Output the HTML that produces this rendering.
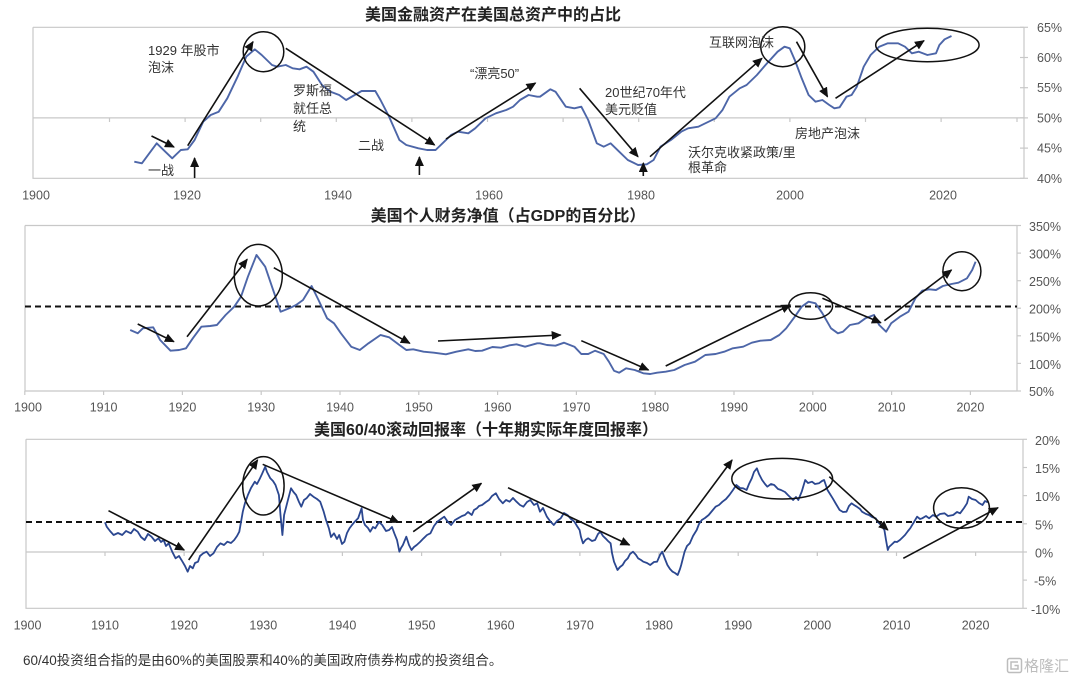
<!DOCTYPE html>
<html><head><meta charset="utf-8">
<style>
html,body{margin:0;padding:0;background:#fff;}
svg{display:block;}
.t{font-family:"Liberation Sans","Noto Sans CJK SC",sans-serif;font-weight:bold;font-size:16px;fill:#222;}
.ax{font-family:"Liberation Sans",sans-serif;font-size:12.5px;fill:#555;}
.an{font-family:"Liberation Sans","Noto Sans CJK SC",sans-serif;font-size:13px;fill:#333;}
.fn{font-family:"Liberation Sans","Noto Sans CJK SC",sans-serif;font-size:13.5px;fill:#333;}
.fr{stroke:#c8c8c8;stroke-width:1.2;fill:none;}
.ar{stroke:#111;stroke-width:1.6;fill:none;}
.el{stroke:#111;stroke-width:1.5;fill:none;}
.ds{stroke:#111;stroke-width:2;stroke-dasharray:6 4;fill:none;}
</style></head>
<body>
<svg width="1080" height="687" viewBox="0 0 1080 687" xmlns="http://www.w3.org/2000/svg">
<defs>
<marker id="ah" markerUnits="userSpaceOnUse" markerWidth="10" markerHeight="9" refX="9" refY="4.5" orient="auto">
<path d="M0,0 L10,4.5 L0,9 z" fill="#111"/>
</marker>
</defs>
<rect width="1080" height="687" fill="#fff"/>

<!-- ============ TOP CHART ============ -->
<text class="t" x="493" y="20" text-anchor="middle">美国金融资产在美国总资产中的占比</text>
<path class="fr" d="M33,27.3 H1024 M33,27.3 V178.3 H1024 M1024,27.3 V178.3"/>
<line x1="33" y1="117.9" x2="1024" y2="117.9" stroke="#c8c8c8" stroke-width="1.2"/>
<g stroke="#c8c8c8" stroke-width="1.2">
<line x1="109.5" y1="117.9" x2="109.5" y2="122"/><line x1="185.1" y1="117.9" x2="185.1" y2="122"/>
<line x1="260.7" y1="117.9" x2="260.7" y2="122"/><line x1="336.3" y1="117.9" x2="336.3" y2="122"/>
<line x1="411.9" y1="117.9" x2="411.9" y2="122"/><line x1="487.5" y1="117.9" x2="487.5" y2="122"/>
<line x1="563.1" y1="117.9" x2="563.1" y2="122"/><line x1="638.7" y1="117.9" x2="638.7" y2="122"/>
<line x1="714.3" y1="117.9" x2="714.3" y2="122"/><line x1="789.9" y1="117.9" x2="789.9" y2="122"/>
<line x1="865.5" y1="117.9" x2="865.5" y2="122"/><line x1="941.1" y1="117.9" x2="941.1" y2="122"/>
<line x1="1017" y1="117.9" x2="1017" y2="122"/>
<line x1="1020" y1="27.3" x2="1028" y2="27.3"/><line x1="1020" y1="57.5" x2="1028" y2="57.5"/>
<line x1="1020" y1="87.7" x2="1028" y2="87.7"/><line x1="1020" y1="117.9" x2="1028" y2="117.9"/>
<line x1="1020" y1="148.1" x2="1028" y2="148.1"/><line x1="1020" y1="178.3" x2="1028" y2="178.3"/>
</g>
<g class="ax">
<text x="1037" y="31.8">65%</text><text x="1037" y="62">60%</text><text x="1037" y="92.2">55%</text>
<text x="1037" y="122.4">50%</text><text x="1037" y="152.6">45%</text><text x="1037" y="182.8">40%</text>
</g>
<g class="ax" text-anchor="middle">
<text x="36" y="199.5">1900</text><text x="187" y="199.5">1920</text><text x="338" y="199.5">1940</text>
<text x="489" y="199.5">1960</text><text x="641" y="199.5">1980</text><text x="790" y="199.5">2000</text>
<text x="943" y="199.5">2020</text>
</g>
<polyline fill="none" stroke="#4d66a8" stroke-width="1.9" stroke-linejoin="round" points="134.3,161.7 141.9,163.3 156.7,143.3 165.3,151.7 172.2,158.3 180.8,150 187.7,149.3 194.6,140 203.2,121.7 210.7,115 218.7,111.7 227.3,98.3 237.6,76.7 246.2,56.7 254.8,49.3 261.7,55 272,65 277.2,66.7 285.8,65 292.7,68.3 299.6,69.3 306.5,66.7 313.4,71.7 322,85 330.6,91.7 339.2,95 346.1,100 354.7,95 361.6,91 375.3,91 380.5,100 389.1,116.7 399.4,140 406.3,145 418.4,148.3 427,150 435.6,150 444.2,141.7 451.1,135 458,131.7 468.3,133.3 475.2,128.3 485.5,118.3 495.9,113.3 506.2,110 513.1,106.7 520,100 528.6,95 537.2,96.7 540,96.7 550.3,89.3 555.5,91.7 565.8,106.7 574.4,108.3 581.3,106.7 588.2,120 596.8,143.3 603.7,146.7 610.6,143.3 619.2,151.7 627.8,160 638.1,165 646.8,164.3 653.6,160 660.5,146.7 670.9,140 681.2,131.7 688.1,128.3 698.4,126.7 705.3,123.3 715.6,118.3 722.5,110 729.4,96.7 739.7,88.3 746.6,85 756.9,75 765.5,65 777.6,51.7 784.5,46.7 789.7,48.3 794.8,60 801.7,78.3 808.6,95 815.5,101.7 822.4,100 829.3,105 834.4,108.3 839.6,107.3 846.5,96.7 851.6,95 856.8,86.7 863.7,66.7 870.6,55 879.2,46.7 887.8,43.3 898.1,43.3 905,46.7 911.9,53.3 918.8,51.7 927.4,55 936,53.3 939.4,45 944.6,39.3 951.5,36"/>
<g class="ar" marker-end="url(#ah)">
<line x1="151.5" y1="136" x2="174" y2="147"/>
<line x1="187.7" y1="145.7" x2="253" y2="41.7"/>
<line x1="285.8" y1="48.3" x2="434.6" y2="145"/>
<line x1="194.6" y1="178" x2="194.6" y2="158"/>
<line x1="419.4" y1="175" x2="419.4" y2="157"/>
<line x1="446" y1="139" x2="535.5" y2="83"/>
<line x1="579.6" y1="88.3" x2="638" y2="156.7"/>
<line x1="643.3" y1="176" x2="643.3" y2="163"/>
<line x1="650" y1="156.7" x2="762" y2="58.3"/>
<line x1="796.5" y1="41.7" x2="827.5" y2="96.7"/>
<line x1="835.5" y1="98.3" x2="924" y2="40.7"/>
</g>
<ellipse class="el" cx="263.5" cy="51.7" rx="20.3" ry="20"/>
<ellipse class="el" cx="782.8" cy="46.7" rx="22" ry="20"/>
<ellipse class="el" cx="927.4" cy="45" rx="51.7" ry="16.7"/>
<g class="an">
<text x="148" y="55">1929 年股市</text><text x="148" y="72">泡沫</text>
<text x="293" y="95">罗斯福</text><text x="293" y="113">就任总</text><text x="293" y="131">统</text>
<text x="358" y="150">二战</text>
<text x="148" y="175">一战</text>
<text x="470" y="78">“漂亮50”</text>
<text x="709" y="47">互联网泡沫</text>
<text x="605" y="97">20世纪70年代</text><text x="605" y="114">美元贬值</text>
<text x="795" y="138">房地产泡沫</text>
<text x="688" y="157">沃尔克收紧政策/里</text><text x="688" y="172">根革命</text>
</g>

<!-- ============ MIDDLE CHART ============ -->
<text class="t" x="508" y="221" text-anchor="middle">美国个人财务净值（占GDP的百分比）</text>
<path class="fr" d="M25,225.5 H1017 M25,225.5 V391 H1017 M1017,225.5 V391"/>
<g stroke="#c8c8c8" stroke-width="1.2">
<line x1="24.8" y1="391" x2="24.8" y2="395"/><line x1="103.6" y1="391" x2="103.6" y2="395"/>
<line x1="182.4" y1="391" x2="182.4" y2="395"/><line x1="261.2" y1="391" x2="261.2" y2="395"/>
<line x1="340" y1="391" x2="340" y2="395"/><line x1="418.8" y1="391" x2="418.8" y2="395"/>
<line x1="497.6" y1="391" x2="497.6" y2="395"/><line x1="576.4" y1="391" x2="576.4" y2="395"/>
<line x1="655.2" y1="391" x2="655.2" y2="395"/><line x1="734" y1="391" x2="734" y2="395"/>
<line x1="812.8" y1="391" x2="812.8" y2="395"/><line x1="891.6" y1="391" x2="891.6" y2="395"/>
<line x1="970.4" y1="391" x2="970.4" y2="395"/>
<line x1="1017" y1="225.5" x2="1021" y2="225.5"/><line x1="1017" y1="253.1" x2="1021" y2="253.1"/>
<line x1="1017" y1="280.7" x2="1021" y2="280.7"/><line x1="1017" y1="308.2" x2="1021" y2="308.2"/>
<line x1="1017" y1="335.8" x2="1021" y2="335.8"/><line x1="1017" y1="363.4" x2="1021" y2="363.4"/>
<line x1="1017" y1="391" x2="1021" y2="391"/>
</g>
<g class="ax">
<text x="1029" y="231">350%</text><text x="1029" y="258.6">300%</text><text x="1029" y="286.2">250%</text>
<text x="1029" y="313.7">200%</text><text x="1029" y="341.3">150%</text><text x="1029" y="368.9">100%</text>
<text x="1029" y="396">50%</text>
</g>
<g class="ax" text-anchor="middle">
<text x="28" y="411.5">1900</text><text x="103.6" y="411.5">1910</text><text x="182.4" y="411.5">1920</text>
<text x="261.2" y="411.5">1930</text><text x="340" y="411.5">1940</text><text x="418.8" y="411.5">1950</text>
<text x="497.6" y="411.5">1960</text><text x="576.4" y="411.5">1970</text><text x="655.2" y="411.5">1980</text>
<text x="734" y="411.5">1990</text><text x="812.8" y="411.5">2000</text><text x="891.6" y="411.5">2010</text>
<text x="970.4" y="411.5">2020</text>
</g>
<line class="ds" x1="25" y1="306.5" x2="1017" y2="306.5"/>
<polyline fill="none" stroke="#4d66a8" stroke-width="1.9" stroke-linejoin="round" points="130.2,330 137.7,333.3 142.9,328.3 153.2,327.3 160.1,340 170.5,350.7 179.1,350 186,348.3 192.8,338.3 201.4,326.7 210.1,326 216.9,325 225.6,315 234.2,306.7 241,296.7 247.9,276.7 256.5,255 265.2,266.7 272,286.7 280.6,311.7 289.3,308.3 296.1,305 303,300 311.6,286 318.5,300 327.1,318.3 334,323.3 340.9,333.3 351.2,346.7 359.8,350 368.5,343.3 380.5,335 389.1,337.3 399.4,345 406.3,350 413.2,349.3 423.6,351.7 433.9,352.7 445.9,354.3 456.3,351.7 468.3,349.3 475.2,351 482.1,350.7 492.4,347 501,347.7 509.6,345.3 516.5,344.3 525.1,346.7 537.2,343.3 540,343.3 546.9,345 555.5,345.7 564.1,342.7 574.4,346.7 581.3,354 588.2,354 595.1,350.7 603.7,354 608.9,361.7 614,370.7 619.2,372.7 626.1,368.3 634.7,370 643.3,373.3 650.2,374 657.1,372.7 665.7,371.7 674.3,370 684.6,365 695,361.7 705.3,355 715.6,354 724.2,351.7 732.8,348.3 743.2,346.7 751.8,342.7 760.4,340.7 770.7,340 779.3,335 786.2,328.3 794.8,316.7 801.7,306.7 808.6,301.7 815.5,303.3 822.4,313.3 831,328.3 837.9,333.3 843,331.7 849.9,325 858.5,323.3 865.4,318.3 874,315 879.2,325 886.1,331.7 891.2,323.3 899.9,316.7 908.5,311.7 915.4,298.3 922.2,290.7 929.1,289.3 936,290 942.9,286 951.5,284 958.4,282.7 967,278.3 972.2,270 975.6,261.7"/>
<g class="ar" marker-end="url(#ah)">
<line x1="137.7" y1="324" x2="173.9" y2="341.7"/>
<line x1="187" y1="336.7" x2="247.2" y2="259.3"/>
<line x1="273.8" y1="267.7" x2="409.8" y2="343.3"/>
<line x1="438" y1="341" x2="560.7" y2="335"/>
<line x1="581.3" y1="340.7" x2="648.5" y2="370"/>
<line x1="665.7" y1="366" x2="790.3" y2="305"/>
<line x1="822.4" y1="298.3" x2="880.9" y2="322.7"/>
<line x1="884.4" y1="320.7" x2="951.5" y2="270"/>
</g>
<ellipse class="el" cx="258.3" cy="275.2" rx="24" ry="30.8"/>
<ellipse class="el" cx="810.6" cy="306" rx="22" ry="13.3"/>
<ellipse class="el" cx="961.9" cy="271.2" rx="19" ry="19.5"/>

<!-- ============ BOTTOM CHART ============ -->
<text class="t" x="486" y="435" text-anchor="middle">美国60/40滚动回报率（十年期实际年度回报率）</text>
<path class="fr" d="M26,439.3 H1023 M26,439.3 V608.3 H1023 M1023,439.3 V608.3"/>
<line x1="26" y1="552" x2="1023" y2="552" stroke="#c8c8c8" stroke-width="1.2"/>
<g stroke="#c8c8c8" stroke-width="1.2">
<line x1="105" y1="552" x2="105" y2="556"/><line x1="184.1" y1="552" x2="184.1" y2="556"/>
<line x1="263.3" y1="552" x2="263.3" y2="556"/><line x1="342.4" y1="552" x2="342.4" y2="556"/>
<line x1="421.6" y1="552" x2="421.6" y2="556"/><line x1="500.7" y1="552" x2="500.7" y2="556"/>
<line x1="579.9" y1="552" x2="579.9" y2="556"/><line x1="659" y1="552" x2="659" y2="556"/>
<line x1="738.2" y1="552" x2="738.2" y2="556"/><line x1="817.3" y1="552" x2="817.3" y2="556"/>
<line x1="896.5" y1="552" x2="896.5" y2="556"/><line x1="975.6" y1="552" x2="975.6" y2="556"/>
<line x1="1023" y1="439.3" x2="1027" y2="439.3"/><line x1="1023" y1="467.5" x2="1027" y2="467.5"/>
<line x1="1023" y1="495.6" x2="1027" y2="495.6"/><line x1="1023" y1="523.8" x2="1027" y2="523.8"/>
<line x1="1023" y1="552" x2="1027" y2="552"/><line x1="1023" y1="580.1" x2="1027" y2="580.1"/>
<line x1="1023" y1="608.3" x2="1027" y2="608.3"/>
</g>
<g class="ax">
<text x="1035" y="444.8">20%</text><text x="1035" y="473">15%</text><text x="1035" y="501.1">10%</text>
<text x="1035" y="529.3">5%</text><text x="1035" y="557.5">0%</text><text x="1034" y="585.6">-5%</text>
<text x="1031" y="613.8">-10%</text>
</g>
<g class="ax" text-anchor="middle">
<text x="27.5" y="629.5">1900</text><text x="105" y="629.5">1910</text><text x="184.1" y="629.5">1920</text>
<text x="263.3" y="629.5">1930</text><text x="342.4" y="629.5">1940</text><text x="421.6" y="629.5">1950</text>
<text x="500.7" y="629.5">1960</text><text x="579.9" y="629.5">1970</text><text x="659" y="629.5">1980</text>
<text x="738.2" y="629.5">1990</text><text x="817.3" y="629.5">2000</text><text x="896.5" y="629.5">2010</text>
<text x="975.6" y="629.5">2020</text>
</g>
<line class="ds" x1="26" y1="522" x2="1023" y2="522"/>
<polyline fill="none" stroke="#2b4790" stroke-width="1.8" stroke-linejoin="round" points="105,522.3 106.7,526.7 110,531 113.6,535 118,533 122.2,535 126,531 130.9,533.3 134,529 137.7,531.7 141,537 144.6,540 148,534 151.5,536.7 155,541 158.4,538.3 161,542 163.6,540 166,546 168.7,543.3 172.2,551.7 175.6,558.3 179,556 182.5,561.7 185,566 187.7,571.7 190,566 192.8,568.3 195,563 198,561.7 200,556 203.2,553.3 206.6,551.7 210,556 213.5,553.3 217,547 220.4,543.3 224,545 227.3,541.7 231,543 234.2,540 237,536 239.3,531.7 242.8,511.7 245,503 247.9,495 251,488 254.8,481.7 257,484 260,478.3 262,474 265.2,466.7 267,472 270.3,478.3 273,481 275.5,485 278.9,495 280.5,515 282.4,535 284.1,515 287.5,501.7 291,488.3 293.5,492 296.1,495 299,502 301.3,506.7 304,500 306.5,498.3 310,494 313.4,496.7 317,499 320.2,501.7 323.7,511.7 326,520 328.9,528.3 331,537 334,533.3 337,539 339.2,535 342,544 344.4,541.7 347,533 349.5,528.3 352,525 354.7,521.7 358.1,518.3 361.6,508.3 363,520 365,525 368,528 370.2,531.7 373,527 375.3,528.3 379,522 382.2,525 386,531 389.1,530 392,527 394.3,533.3 397,540 399.4,551.7 401,548 402.9,545 406.3,536.7 409,545 411.5,550 414,547 416.7,545 420,542 423.6,538.3 427,535 430.4,533.3 434,526 437.3,521.7 441,519 444.2,516.7 448,522 451.1,525 455,520 458,518.3 462,516 464.9,515 468,512 471.8,515 474,510 476.9,508.3 479,506 482.1,505 486,502 489,500 492,496 495.9,493.3 499,499 502.8,503.3 506,500 509.6,501.7 513,498 516.5,501.7 520,505 523.4,506.7 527,502 530.3,500 534,505 537.2,503.3 540,511.7 543,508 546.9,516.7 550,521 553.8,525 557,521 560.7,518.3 564,513 567.5,515 571,519 574.4,521.7 577,526 579.6,530 581,537 583,543.3 585.5,540 588.2,538.3 592,541 595.1,540 598,534 600.3,531.7 603,536 605.4,538.3 608,541 610.6,543.3 612,553 614,561.7 617.5,570 620,567 622.6,565 625,561 627.8,558.3 630,554 633,551.7 636,555 638.1,558.3 641,560 643.3,561.7 647,563 650.2,565 654,562 657.1,561.7 660,555 662.2,551.7 665,559 667.4,565 670,569 672.6,571.7 675,573 677.7,575 680,569 681.2,565 684.6,551.7 687,546 689.8,543.3 693,536 696.7,530 699,524 701.8,520 705,518 708.7,515 712,511 715.6,506.7 719,505 722.5,501.7 726,499 729.4,495 733,490 736.3,485 740,488 743.2,488.3 746.6,490 749,484 751.8,478.3 754,472 756.9,468.3 759,474 762.1,480 765,484 767.3,486.7 771,484 774.2,485 778,489 781,490 785,492 787.9,495 791,498 793.1,500 796,497 798.3,500 801.7,491.7 805.2,480 808,483 812,481.7 815,484 818.9,483.3 822,481 824.1,480 827.5,490 830,494 832.7,498.3 836,504 839.6,510 843,512 846.5,511.7 849,506 851.6,503.3 854,505 856.8,506.7 860,509 862,511.7 866,514 868.9,515 872,517 875.7,518.3 878,522 880.9,525 884.4,530 886,540 887.8,550 889,547 891.2,545 894.7,541.7 897,542 899.9,540 903,537 905,535 908,531 910.2,528.3 914,522 917.1,516.7 920,519 922.2,518.3 926,516 929.1,518.3 933,515 936,516.7 940,514 944.6,513.3 948,516 953.2,515 957,512 960.1,513.3 964,508 967,503.3 968.7,496.7 972,499 975.6,500 979,503 982.5,505 985,501 987.7,502.3"/>
<g class="ar" marker-end="url(#ah)">
<line x1="108.5" y1="510.7" x2="184.2" y2="550"/>
<line x1="188.7" y1="560" x2="257.6" y2="460"/>
<line x1="262.7" y1="464.3" x2="398.8" y2="522.3"/>
<line x1="413.2" y1="531.7" x2="481.4" y2="483.3"/>
<line x1="508" y1="487.7" x2="629.5" y2="545"/>
<line x1="664" y1="551.7" x2="732.1" y2="460"/>
<line x1="829.3" y1="476.7" x2="887.8" y2="530"/>
<line x1="903.3" y1="558.3" x2="998" y2="507.7"/>
</g>
<ellipse class="el" cx="263.4" cy="485.8" rx="20.7" ry="29.2"/>
<ellipse class="el" cx="782.2" cy="478.7" rx="50.4" ry="20.3"/>
<ellipse class="el" cx="961.5" cy="508" rx="27.9" ry="20.3"/>

<!-- footnote -->
<text class="fn" x="23" y="665">60/40投资组合指的是由60%的美国股票和40%的美国政府债券构成的投资组合。</text>

<!-- watermark -->
<g fill="none" stroke="#bdbdbd" stroke-width="1.5">
<rect x="1007.5" y="658.5" width="14" height="14" rx="2"/>
<path d="M1018,662 H1011 V669 H1018 V665.5 H1014.5"/>
</g>
<text x="1024" y="671" font-family="'Liberation Sans','Noto Sans CJK SC',sans-serif" font-size="15" fill="#bdbdbd">格隆汇</text>
</svg>
</body></html>
